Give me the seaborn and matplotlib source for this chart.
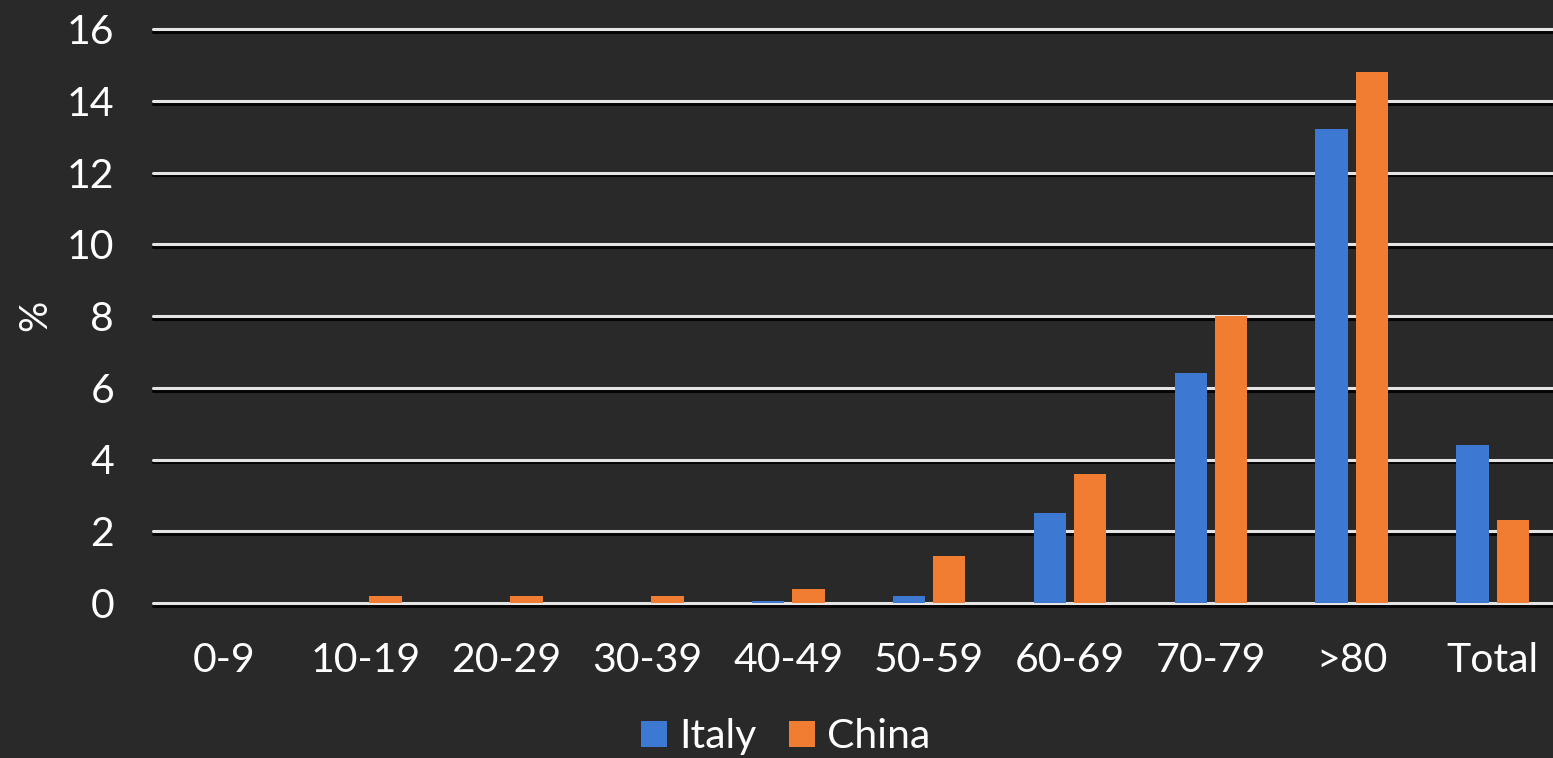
import matplotlib
matplotlib.use("Agg")
import matplotlib.pyplot as plt
import matplotlib.patheffects as pe
import seaborn as sns
import pandas as pd

categories = ["0-9", "10-19", "20-29", "30-39", "40-49", "50-59", "60-69", "70-79", ">80", "Total"]
italy = [0.0, 0.0, 0.0, 0.0, 0.05, 0.2, 2.5, 6.4, 13.2, 4.4]
china = [0.0, 0.2, 0.2, 0.2, 0.4, 1.3, 3.6, 8.0, 14.8, 2.3]
series_names = ["Italy", "China"]
yticks = [0, 2, 4, 6, 8, 10, 12, 14, 16]

df = pd.DataFrame({
    "age": categories * 2,
    "value": italy + china,
    "country": [series_names[0]] * len(categories) + [series_names[1]] * len(categories),
})

sns.set_theme(style="dark")
plt.rcParams["font.family"] = ["Lato", "DejaVu Sans"]

bg = "#2a2929"
fig = plt.figure(figsize=(15.53, 7.58), dpi=100, facecolor=bg)
ax = fig.add_axes([153 / 1553, (758 - 603) / 758, 1 - 153 / 1553, (603 - 29) / 758])
ax.set_facecolor(bg)

palette = {"Italy": "#3D78D3", "China": "#F07D31"}
sns.barplot(data=df, x="age", y="value", hue="country", order=categories,
            hue_order=series_names, palette=palette, width=0.57, gap=0.19,
            saturation=1, linewidth=0, edgecolor="none", ax=ax, legend=True)

ax.set_xlim(-0.508, 9.428)
ax.set_ylim(0, 16)
ax.set_yticks(yticks)
ax.set_yticklabels([str(t) for t in yticks])
ax.set_xlabel("")
ax.set_ylabel("")
for s in ax.spines.values():
    s.set_visible(False)

ax.yaxis.grid(True, color="#e4e4e4", linewidth=2.2)
ax.xaxis.grid(False)
ax.set_axisbelow(True)
for gl in ax.yaxis.get_gridlines():
    gl.set_path_effects([pe.SimpleLineShadow(offset=(0, -2), shadow_color="black", alpha=0.9), pe.Normal()])
    gl.set_clip_on(False)

ax.tick_params(axis="both", length=0, colors="white", labelsize=29.5)
ax.tick_params(axis="x", pad=28)
ax.tick_params(axis="y", pad=28)
for lab in ax.get_xticklabels() + ax.get_yticklabels():
    lab.set_color("white")

fig.text(35 / 1553, (758 - 315) / 758, "%", rotation=90, color="white",
         fontsize=28, ha="center", va="center")

leg = ax.get_legend()
handles = leg.legend_handles
leg.remove()
fig.legend(handles, series_names, loc="center", bbox_to_anchor=(0.506, 0.028),
           ncol=2, frameon=False, fontsize=29.5, labelcolor="white",
           handlelength=0.62, handleheight=0.62, handletextpad=0.3,
           columnspacing=0.8)

fig.savefig("out.png", dpi=100, facecolor=bg)
